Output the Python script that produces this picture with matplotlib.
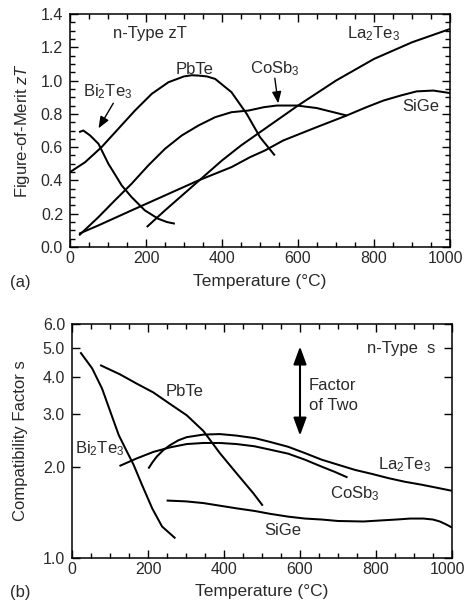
import matplotlib
matplotlib.use('Agg')
import matplotlib.pyplot as plt
import matplotlib.transforms as mtransforms
from matplotlib.ticker import MultipleLocator, NullLocator, FixedLocator

plt.rcParams['font.family'] = ['Liberation Sans', 'DejaVu Sans']
plt.rcParams['mathtext.fontset'] = 'custom'
plt.rcParams['mathtext.rm'] = 'Liberation Sans'
plt.rcParams['mathtext.it'] = 'Liberation Sans:italic'
plt.rcParams['mathtext.default'] = 'regular'

TXT = '#2a2a2a'

# ---- (a) figure of merit zT, n-type ----
bi2te3_T = [24, 35, 53, 75, 101, 120, 136, 162, 197, 232, 255, 276]
bi2te3_zT = [0.69, 0.70, 0.67, 0.62, 0.50, 0.43, 0.37, 0.30, 0.22, 0.17, 0.15, 0.14]

pbte_T = [0, 40, 83, 127, 171, 215, 259, 300, 320, 338, 360, 382, 425, 465, 500, 539]
pbte_zT = [0.45, 0.51, 0.60, 0.71, 0.82, 0.92, 0.99, 1.025, 1.032, 1.03, 1.025, 1.01, 0.93, 0.80, 0.66, 0.55]

cosb3_T = [24, 75, 118, 162, 206, 250, 294, 338, 382, 425, 470, 510, 544, 597, 649, 693, 728]
cosb3_zT = [0.07, 0.18, 0.28, 0.38, 0.49, 0.59, 0.67, 0.73, 0.78, 0.81, 0.82, 0.84, 0.85, 0.85, 0.835, 0.81, 0.79]

la2te3_T = [202, 250, 300, 350, 400, 450, 500, 550, 600, 700, 800, 900, 1000]
la2te3_zT = [0.12, 0.22, 0.32, 0.42, 0.52, 0.61, 0.69, 0.77, 0.85, 1.00, 1.13, 1.23, 1.31]

sige_T = [24, 75, 162, 250, 338, 425, 474, 513, 561, 649, 728, 780, 825, 870, 912, 956, 1000]
sige_zT = [0.08, 0.13, 0.22, 0.31, 0.40, 0.48, 0.54, 0.58, 0.64, 0.72, 0.79, 0.84, 0.88, 0.91, 0.935, 0.94, 0.925]

# ---- (b) compatibility factor s, n-type ----
bi2te3_sT = [22, 53, 79, 101, 123, 145, 162, 184, 211, 237, 272]
bi2te3_s = [4.83, 4.27, 3.66, 3.06, 2.56, 2.25, 2.04, 1.75, 1.46, 1.27, 1.16]

pbte_sT = [74, 126, 170, 214, 258, 302, 346, 389, 433, 477, 502]
pbte_s = [4.38, 4.08, 3.80, 3.55, 3.25, 2.98, 2.64, 2.23, 1.91, 1.64, 1.49]

cosb3_sT = [125, 170, 214, 258, 302, 346, 389, 433, 480, 521, 569, 613, 657, 692, 725]
cosb3_s = [2.02, 2.14, 2.25, 2.33, 2.39, 2.41, 2.41, 2.39, 2.35, 2.29, 2.22, 2.12, 2.01, 1.93, 1.85]

la2te3_sT = [201, 212, 223, 240, 258, 280, 302, 346, 389, 433, 482, 521, 569, 613, 657,
             700, 745, 790, 833, 876, 920, 960, 1000]
la2te3_s = [1.98, 2.08, 2.17, 2.28, 2.37, 2.46, 2.52, 2.57, 2.58, 2.55, 2.50, 2.43, 2.34, 2.23, 2.12,
            2.04, 1.96, 1.90, 1.84, 1.79, 1.75, 1.71, 1.67]

sige_sT = [249, 300, 346, 389, 433, 482, 521, 569, 613, 657, 700, 767, 810, 854, 890,
           925, 950, 968, 985, 1000]
sige_s = [1.55, 1.54, 1.52, 1.49, 1.46, 1.43, 1.40, 1.37, 1.35, 1.34, 1.325, 1.32, 1.33, 1.34, 1.35,
          1.35, 1.34, 1.32, 1.29, 1.26]

T_ticks = [0, 200, 400, 600, 800, 1000]
zT_ticks = [0, 0.2, 0.4, 0.6, 0.8, 1.0, 1.2, 1.4]
s_ticks = [1, 2, 3, 4, 5, 6]

fig = plt.figure(figsize=(4.65, 6.03), dpi=100)
ax1 = fig.add_axes([70 / 465, 1 - 247 / 603, 380 / 465, 233 / 603])
ax2 = fig.add_axes([72 / 465, 1 - 557.7 / 603, 380 / 465, 233.7 / 603])

lw = 1.45
for T, z in [(bi2te3_T, bi2te3_zT), (pbte_T, pbte_zT), (cosb3_T, cosb3_zT),
             (la2te3_T, la2te3_zT), (sige_T, sige_zT)]:
    ax1.plot(T, z, color='k', lw=lw, solid_capstyle='butt', solid_joinstyle='round')

for T, s in [(bi2te3_sT, bi2te3_s), (pbte_sT, pbte_s), (cosb3_sT, cosb3_s),
             (la2te3_sT, la2te3_s), (sige_sT, sige_s)]:
    ax2.plot(T, s, color='k', lw=lw, solid_capstyle='butt', solid_joinstyle='round')

# axes (a)
ax1.set_xlim(0, 1000)
ax1.set_ylim(0, 1.4)
ax1.set_xticks(T_ticks)
ax1.set_xticklabels([str(t) for t in T_ticks])
ax1.xaxis.set_minor_locator(MultipleLocator(50))
ax1.set_yticks(zT_ticks)
ax1.set_yticklabels(['%.1f' % v for v in zT_ticks])
ax1.yaxis.set_minor_locator(MultipleLocator(0.05))
ax1.set_xlabel('Temperature (°C)', fontsize=12.5, color=TXT)
ax1.set_ylabel('Figure-of-Merit $\\mathit{zT}$', fontsize=12, color=TXT)
ax1.xaxis.set_label_coords(0.5, -0.115)
ax1.yaxis.set_label_coords(-0.1, 0.5)

# axes (b), log scale
ax2.set_yscale('log')
ax2.set_xlim(0, 1000)
ax2.set_ylim(1, 6)
ax2.set_xticks(T_ticks)
ax2.set_xticklabels([str(t) for t in T_ticks])
ax2.xaxis.set_minor_locator(MultipleLocator(50))
ax2.yaxis.set_major_locator(FixedLocator(s_ticks))
ax2.yaxis.set_minor_locator(NullLocator())
ax2.set_yticklabels(['%.1f' % v for v in s_ticks])
ax2.set_xlabel('Temperature (°C)', fontsize=12.5, color=TXT)
ax2.set_ylabel('Compatibility Factor s', fontsize=12, color=TXT)
ax2.xaxis.set_label_coords(0.5, -0.112)
ax2.yaxis.set_label_coords(-0.115, 0.5)

shift = mtransforms.ScaledTranslation(-5 / 100, 0, fig.dpi_scale_trans)
for ax in (ax1, ax2):
    for sp in ax.spines.values():
        sp.set_linewidth(1.1)
    ax.tick_params(which='both', direction='in', top=True, right=True, width=1.0,
                   labelsize=11.5, labelcolor=TXT)
    ax.tick_params(which='major', length=5.5)
    ax.tick_params(which='minor', length=3.5)
    ax.tick_params(axis='y', pad=5)
    ax.tick_params(axis='x', pad=3)
    # keep "1000" inside the figure
    last = ax.get_xticklabels()[-1]
    last.set_transform(last.get_transform() + shift)

# labels (a)
fs = 12
ax1.text(114, 1.254, 'n-Type zT', fontsize=fs, color=TXT, ha='left', va='baseline')
ax1.text(798, 1.254, 'La$_2$Te$_3$', fontsize=fs, color=TXT, ha='center', va='baseline')
ax1.text(329, 1.04, 'PbTe', fontsize=fs, color=TXT, ha='center', va='baseline')
ax1.text(539, 1.044, 'CoSb$_3$', fontsize=fs, color=TXT, ha='center', va='baseline')
ax1.text(99, 0.903, 'Bi$_2$Te$_3$', fontsize=fs, color=TXT, ha='center', va='baseline')
ax1.text(923, 0.817, 'SiGe', fontsize=fs, color=TXT, ha='center', va='baseline')
arrow = dict(arrowstyle='-|>,head_length=0.5,head_width=0.2', color='k', lw=1.0,
             mutation_scale=14, shrinkA=0, shrinkB=0)
ax1.annotate('', xy=(75, 0.713), xytext=(114, 0.864), arrowprops=arrow)
ax1.annotate('', xy=(548, 0.863), xytext=(539, 1.014), arrowprops=arrow)

# labels (b)
ax2.text(955, 4.80, 'n-Type  s', fontsize=fs, color=TXT, ha='right', va='baseline')
ax2.text(624, 3.62, 'Factor', fontsize=fs, color=TXT, ha='left', va='baseline')
ax2.text(624, 3.10, 'of Two', fontsize=fs, color=TXT, ha='left', va='baseline')
ax2.text(874, 1.97, 'La$_2$Te$_3$', fontsize=fs, color=TXT, ha='center', va='baseline')
ax2.text(743, 1.58, 'CoSb$_3$', fontsize=fs, color=TXT, ha='center', va='baseline')
ax2.text(554, 1.19, 'SiGe', fontsize=fs, color=TXT, ha='center', va='baseline')
ax2.text(297, 3.46, 'PbTe', fontsize=fs, color=TXT, ha='center', va='baseline')
ax2.text(72, 2.23, 'Bi$_2$Te$_3$', fontsize=fs, color=TXT, ha='center', va='baseline')
ax2.annotate('', xy=(600, 5.05), xytext=(600, 2.55),
             arrowprops=dict(arrowstyle='<|-|>,head_length=0.6,head_width=0.22', color='k',
                             lw=1.5, mutation_scale=18, shrinkA=0, shrinkB=0))

fig.text(10 / 465, 1 - 283 / 603, '(a)', fontsize=fs, color=TXT, ha='left', va='center')
fig.text(10 / 465, 1 - 593 / 603, '(b)', fontsize=fs, color=TXT, ha='left', va='center')

fig.savefig('out.png', dpi=100)
